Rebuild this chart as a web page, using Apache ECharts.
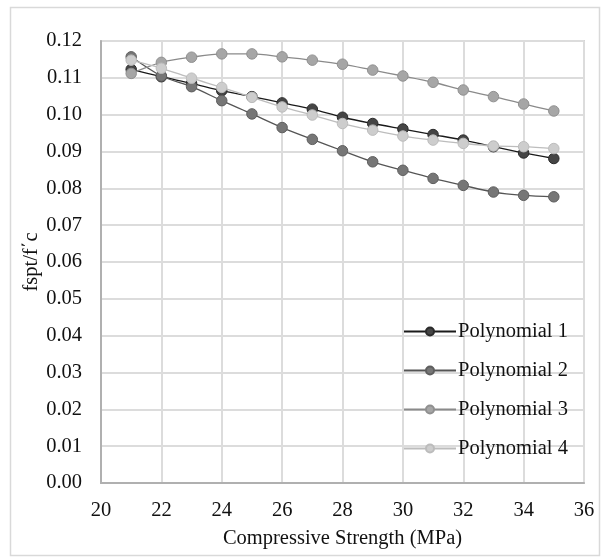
<!DOCTYPE html>
<html><head><meta charset="utf-8">
<script src="https://cdn.jsdelivr.net/npm/echarts@6/dist/echarts.min.js"></script>
<style>html,body{margin:0;padding:0;background:#fff}#c{width:603px;height:560px}</style>
</head><body><div id="c"></div>
<script>
const strength = [21,22,23,24,25,26,27,28,29,30,31,32,33,34,35];
const poly1 = [0.1123,0.1103,0.1085,0.1065,0.1049,0.1032,0.1015,0.0993,0.0976,0.0961,0.0946,0.0931,0.0913,0.0896,0.0881];
const poly2 = [0.1157,0.1105,0.1076,0.1038,0.1002,0.0965,0.0933,0.0902,0.0872,0.0849,0.0827,0.0808,0.0790,0.0781,0.0777];
const poly3 = [0.1112,0.1142,0.1156,0.1165,0.1165,0.1157,0.1148,0.1137,0.1121,0.1105,0.1088,0.1067,0.1049,0.1029,0.1010];
const poly4 = [0.1148,0.1126,0.1099,0.1074,0.1047,0.1021,0.0999,0.0976,0.0958,0.0942,0.0931,0.0922,0.0915,0.0913,0.0908];
const seriesNames = ['Polynomial 1','Polynomial 2','Polynomial 3','Polynomial 4'];
const xTicks = {min:20, max:36, interval:2};
const yTicks = {min:0, max:0.12, interval:0.01};

const font = 'Liberation Serif';
const fs = 20.5;
const styles = [
  {line:'#1a1a1a', fill:'#454545', border:'#2a2a2a'},
  {line:'#555555', fill:'#767676', border:'#5e5e5e'},
  {line:'#8a8a8a', fill:'#a6a6a6', border:'#909090'},
  {line:'#bdbdbd', fill:'#cdcdcd', border:'#bcbcbc'}
];
const data = [poly1, poly2, poly3, poly4];
const series = data.map((vals, i) => ({
  name: seriesNames[i],
  type: 'line',
  smooth: 0.3,
  data: strength.map((x, j) => [x, vals[j]]),
  symbol: 'circle',
  symbolSize: 10.5,
  lineStyle: {color: styles[i].line, width: 1.3},
  itemStyle: {color: styles[i].fill, borderColor: styles[i].border, borderWidth: 1},
  z: 2 + i,
  animation: false
}));

const chart = echarts.init(document.getElementById('c'), null, {renderer:'canvas'});
chart.setOption({
  backgroundColor: '#fff',
  animation: false,
  graphic: [{
    type: 'rect', shape: {x: 10.5, y: 7.5, width: 589, height: 548},
    style: {fill: 'none', stroke: '#d9d9d9', lineWidth: 1.5}, silent: true, z: -1
  }],
  grid: {left: 101, right: 19, top: 41, bottom: 77, show: true, borderColor: '#d4d4d4', borderWidth: 2, backgroundColor: 'transparent'},
  legend: {
    data: seriesNames,
    orient: 'vertical',
    left: 398, top: 316,
    itemWidth: 52, itemHeight: 10, itemGap: 18,
    textStyle: {fontFamily: font, fontSize: fs, color: '#111', lineHeight: 21, padding: [0,0,0,-3]}
  },
  xAxis: {
    type: 'value', min: xTicks.min, max: xTicks.max, interval: xTicks.interval,
    name: 'Compressive Strength (MPa)', nameLocation: 'middle', nameGap: 45,
    nameTextStyle: {fontFamily: font, fontSize: fs, color: '#111'},
    axisLine: {show: true, lineStyle: {color: '#b0b0b0', width: 2}},
    axisTick: {show: false},
    axisLabel: {fontFamily: font, fontSize: fs, color: '#111', margin: 17},
    splitLine: {show: true, lineStyle: {color: '#dcdcdc', width: 2}}
  },
  yAxis: {
    type: 'value', min: yTicks.min, max: yTicks.max, interval: yTicks.interval,
    name: 'fspt/f΄c', nameLocation: 'middle', nameGap: 59, nameMoveOverlap: false,
    nameTextStyle: {fontFamily: font, fontSize: fs, color: '#111'},
    axisLine: {show: true, lineStyle: {color: '#b0b0b0', width: 2}},
    axisTick: {show: false},
    axisLabel: {fontFamily: font, fontSize: fs, color: '#111', margin: 19, formatter: v => v.toFixed(2)},
    splitLine: {show: true, lineStyle: {color: '#dcdcdc', width: 2}}
  },
  series: series
});
</script></body></html>
